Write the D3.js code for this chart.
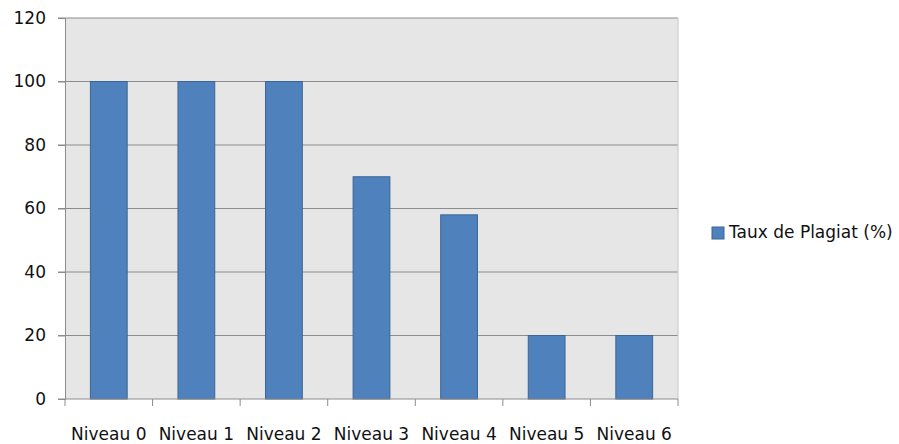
<!DOCTYPE html>
<html><head><meta charset="utf-8">
<script src="https://cdn.jsdelivr.net/npm/d3@7"></script>
<style>body{margin:0;background:#fff}svg{display:block}</style>
</head><body>
<svg id="c" width="899" height="444"></svg>
<script>
const categories = ["Niveau 0","Niveau 1","Niveau 2","Niveau 3","Niveau 4","Niveau 5","Niveau 6"];
const values = [100,100,100,70,58,20,20];
const yTicks = [0,20,40,60,80,100,120];
const seriesName = "Taux de Plagiat (%)";

const svg = d3.select("#c");
const m = {l:65, r:678, t:18, b:399};
const font = "'DejaVu Sans', sans-serif";
const fs = 17;
const x = d3.scaleBand().domain(categories).range([m.l, m.r]).paddingInner(0.58).paddingOuter(0.29);
const y = d3.scaleLinear().domain([0,120]).range([m.b, m.t]);

svg.append("rect").attr("x", m.l).attr("y", m.t).attr("width", m.r-m.l).attr("height", m.b-m.t).attr("fill", "#e6e6e6");

// gridlines
svg.append("g").selectAll("line").data(yTicks.filter(d=>d>0)).join("line")
  .attr("x1", m.l-7).attr("x2", m.r).attr("y1", d=>y(d)).attr("y2", d=>y(d))
  .attr("stroke", "#8c8c8c").attr("stroke-width", 1);
// right border
svg.append("line").attr("x1", m.r).attr("x2", m.r).attr("y1", m.t).attr("y2", m.b).attr("stroke","#c8c8c8");

// bars
svg.append("g").selectAll("rect").data(values).join("rect")
  .attr("x", (d,i)=>x(categories[i])).attr("width", x.bandwidth())
  .attr("y", d=>y(d)).attr("height", d=>y(0)-y(d))
  .attr("fill", "#4f81bd").attr("stroke", "#3b6596").attr("stroke-width", 1);

// y axis
const ya = d3.axisLeft(y).tickValues(yTicks).tickSize(7).tickPadding(12);
const yg = svg.append("g").attr("transform", `translate(${m.l},0)`).call(ya);
yg.select(".domain").attr("stroke", "#8c8c8c");
yg.selectAll(".tick line").attr("stroke", "#8c8c8c");
yg.selectAll("text").attr("font-family", font).attr("font-size", fs).attr("fill", "#111");

// x axis
const bounds = categories.map((c,i)=>m.l + i*(m.r-m.l)/categories.length).concat([m.r]);
svg.append("line").attr("x1", m.l-7).attr("x2", m.r).attr("y1", m.b).attr("y2", m.b).attr("stroke", "#8c8c8c");
svg.append("g").selectAll("line").data(bounds).join("line")
  .attr("x1", d=>d).attr("x2", d=>d).attr("y1", m.b).attr("y2", m.b+7).attr("stroke", "#8c8c8c");
svg.append("g").selectAll("text").data(categories).join("text")
  .attr("x", d=>x(d)+x.bandwidth()/2).attr("y", 440)
  .attr("text-anchor", "middle").attr("font-family", font).attr("font-size", fs).attr("fill", "#111")
  .text(d=>d);

// legend
svg.append("rect").attr("x", 712).attr("y", 227).attr("width", 12).attr("height", 12)
  .attr("fill", "#4f81bd").attr("stroke", "#3b6596");
svg.append("text").attr("x", 729).attr("y", 238).attr("font-family", font).attr("font-size", fs).attr("fill", "#111").text(seriesName);
</script>
</body></html>
